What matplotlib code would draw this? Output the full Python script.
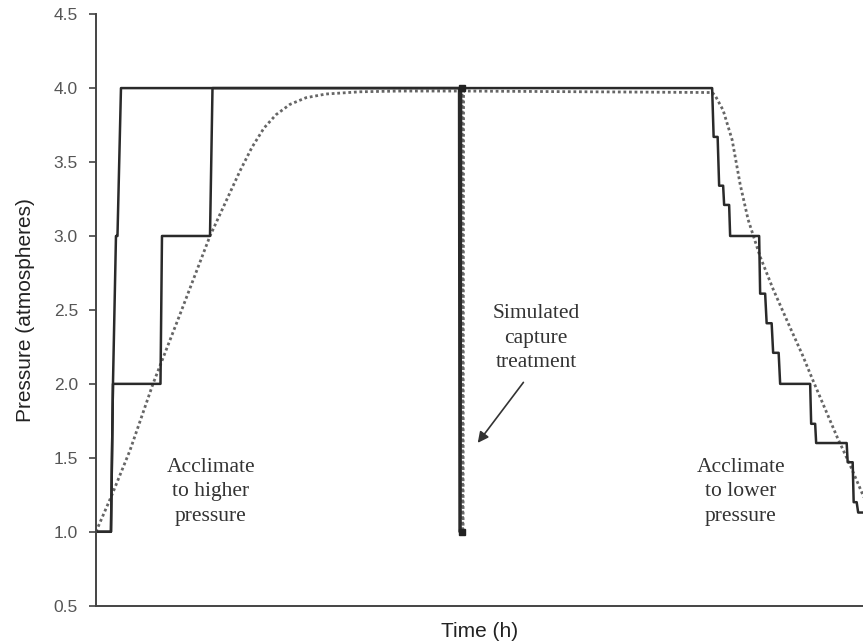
import matplotlib.pyplot as plt

# time in hours, pressure in atmospheres
t_fast = [0, 1.5, 1.7, 2.0, 2.15, 2.5, 36.3, 36.35, 36.45, 36.5, 61.6,
          61.75, 62.15, 62.3, 62.7, 62.8, 63.3, 63.4, 66.3, 66.4, 66.9, 67.05,
          67.55, 67.7, 68.25, 68.4, 71.4, 71.5, 71.9, 72.0, 75.05, 75.15,
          75.65, 75.75, 76.05, 76.2, 77.0]
p_fast = [1.0, 1.0, 2.0, 3.0, 3.0, 4.0, 4.0, 1.0, 1.0, 4.0, 4.0,
          3.67, 3.67, 3.34, 3.34, 3.21, 3.21, 3.0, 3.0, 2.61, 2.61, 2.41,
          2.41, 2.21, 2.21, 2.0, 2.0, 1.73, 1.73, 1.60, 1.60, 1.47,
          1.47, 1.20, 1.20, 1.13, 1.13]

t_slow = [0, 1.5, 1.7, 6.45, 6.6, 11.4, 11.65, 36.3]
p_slow = [1.0, 1.0, 2.0, 2.0, 3.0, 3.0, 4.0, 4.0]

t_model = [0, 1.6, 3.4, 5.7, 8.4, 11.4, 14.4, 15.6, 16.8, 18.0, 19.4, 21.0,
           23.0, 26.4, 30.4, 36.6, 36.65, 36.7, 36.75, 61.6, 61.9, 62.7,
           63.6, 64.4, 65.2, 66.4, 67.7, 69.4, 70.6, 71.7, 72.9, 74.1, 75.4,
           76.6, 77.4]
p_model = [1.0, 1.25, 1.55, 2.0, 2.47, 3.0, 3.44, 3.6, 3.73, 3.82, 3.89,
           3.935, 3.96, 3.975, 3.98, 3.98, 1.0, 1.0, 3.98, 3.97, 3.95, 3.85,
           3.65, 3.35, 3.11, 2.86, 2.64, 2.38, 2.2, 2.02, 1.83, 1.64, 1.45,
           1.26, 1.14]

fig = plt.figure(figsize=(8.63, 6.43), dpi=100)
ax = fig.add_axes([0.1112, 0.058, 0.889, 0.920])

ax.plot(t_model, p_model, color='#666666', lw=2.0, ls=(0, (1, 1)))
ax.plot(t_slow, p_slow, color='#2a2a2a', lw=1.8)
ax.plot(t_fast, p_fast, color='#2a2a2a', lw=1.8)
ax.plot([36.55, 36.55], [1.0, 4.0], ls='none', marker='s', ms=4,
        color='#222222')

ax.set_xlim(0, 76.7)
ax.set_ylim(0.5, 4.5)
ax.set_yticks([0.5, 1.0, 1.5, 2.0, 2.5, 3.0, 3.5, 4.0, 4.5])
ax.set_yticklabels(['0.5', '1.0', '1.5', '2.0', '2.5', '3.0', '3.5', '4.0', '4.5'],
                   family='Liberation Sans')
ax.set_xticks([])
ax.tick_params(axis='y', direction='out', length=5, width=1.2,
               colors='#444444', labelcolor='#555555', labelsize=12.5, pad=8)
for side in ['top', 'right']:
    ax.spines[side].set_visible(False)
for side in ['left', 'bottom']:
    ax.spines[side].set_color('#444444')
    ax.spines[side].set_linewidth(1.4)

ax.set_xlabel('Time (h)', fontsize=15, color='#222222', labelpad=12,
              family='Liberation Sans')
ax.set_ylabel('Pressure (atmospheres)', fontsize=15, color='#222222',
              labelpad=13, family='Liberation Sans')

serif = dict(family='Liberation Serif', fontsize=15.5, color='#333333',
             ha='center', va='center', linespacing=1.4)
ax.text(11.5, 1.27, 'Acclimate\nto higher\npressure', **serif)
ax.text(44.0, 2.31, 'Simulated\ncapture\ntreatment', **serif)
ax.text(64.45, 1.27, 'Acclimate\nto lower\npressure', **serif)
ax.annotate('', xy=(38.0, 1.586), xytext=(42.9, 2.025),
            arrowprops=dict(arrowstyle='-|>', color='#333333', lw=1.2,
                            mutation_scale=16))

fig.savefig('out.png', dpi=100)
